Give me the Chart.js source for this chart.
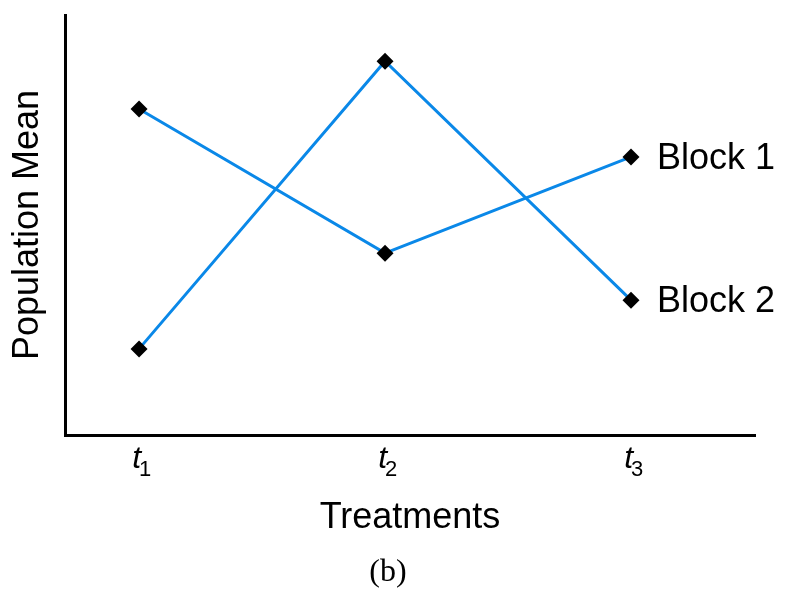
<!DOCTYPE html>
<html>
<head>
<meta charset="utf-8">
<script src="https://cdn.jsdelivr.net/npm/chart.js@4/dist/chart.umd.min.js"></script>
<style>
  html, body { margin: 0; padding: 0; background: #fff; }
  #wrap { width: 796px; height: 601px; position: relative; }
</style>
</head>
<body>
<div id="wrap"><canvas id="chart" width="796" height="601"></canvas></div>
<script>
// treatments along the x axis (1, 2, 3 -> t1, t2, t3)
const treatments = [1, 2, 3];
const tickSubs = ['1', '2', '3'];
const seriesNames = ['Block 1', 'Block 2'];
const block1 = [7.76, 4.33, 6.62];
const block2 = [2.05, 8.9, 3.21];

const lineColor = '#0a88e8';
const font = '"Liberation Sans", Arial, Helvetica, sans-serif';

const toPoints = vals => vals.map((v, i) => ({ x: treatments[i], y: v }));

// draws tick labels, end labels, axis titles and caption
const textPlugin = {
  id: 'textPlugin',
  afterDraw(chart) {
    const ctx = chart.ctx;
    const xs = chart.scales.x;
    ctx.save();
    ctx.fillStyle = '#000';
    ctx.textBaseline = 'alphabetic';

    // t_i tick labels
    treatments.forEach((t, i) => {
      const px = xs.getPixelForValue(t);
      ctx.font = 'italic 32px ' + font;
      ctx.textAlign = 'right';
      ctx.fillText('t', px + 2, 468);
      ctx.font = '22px ' + font;
      ctx.textAlign = 'left';
      ctx.fillText(tickSubs[i], px, 476);
    });

    // series labels at the last point
    chart.data.datasets.forEach((ds, i) => {
      const meta = chart.getDatasetMeta(i);
      const last = meta.data[meta.data.length - 1];
      ctx.font = '36px ' + font;
      ctx.textAlign = 'left';
      ctx.textBaseline = 'middle';
      ctx.fillText(seriesNames[i], last.x + 26, last.y + 2);
    });

    // axis titles
    ctx.font = '36px ' + font;
    ctx.textAlign = 'center';
    ctx.textBaseline = 'middle';
    ctx.fillText('Treatments', 410, 518);
    ctx.save();
    ctx.translate(28, 225);
    ctx.rotate(-Math.PI / 2);
    ctx.fillText('Population Mean', 0, 0);
    ctx.restore();

    // caption
    ctx.font = '32px "Liberation Serif", "DejaVu Serif", serif';
    ctx.fillText('(b)', 388, 573);
    ctx.restore();
  }
};

new Chart(document.getElementById('chart'), {
  type: 'line',
  data: {
    datasets: [
      { label: seriesNames[0], data: toPoints(block1) },
      { label: seriesNames[1], data: toPoints(block2) }
    ]
  },
  options: {
    responsive: false,
    animation: false,
    devicePixelRatio: 1,
    layout: { padding: { left: 65, right: 41, top: 15, bottom: 166 } },
    elements: {
      line: { borderColor: lineColor, borderWidth: 3, tension: 0 },
      point: {
        pointStyle: 'rectRot', radius: 8.5,
        backgroundColor: '#000', borderColor: '#000', borderWidth: 0
      }
    },
    plugins: { legend: { display: false }, tooltip: { enabled: false } },
    scales: {
      x: {
        type: 'linear', min: 0.699, max: 3.504,
        grid: { display: false },
        ticks: { display: false },
        border: { display: true, color: '#000', width: 3 },
        afterFit(s) { s.height = 0; }
      },
      y: {
        min: 0, max: 10,
        grid: { display: false },
        ticks: { display: false },
        border: { display: true, color: '#000', width: 3 },
        afterFit(s) { s.width = 0; }
      }
    }
  },
  plugins: [textPlugin]
});
</script>
</body>
</html>
